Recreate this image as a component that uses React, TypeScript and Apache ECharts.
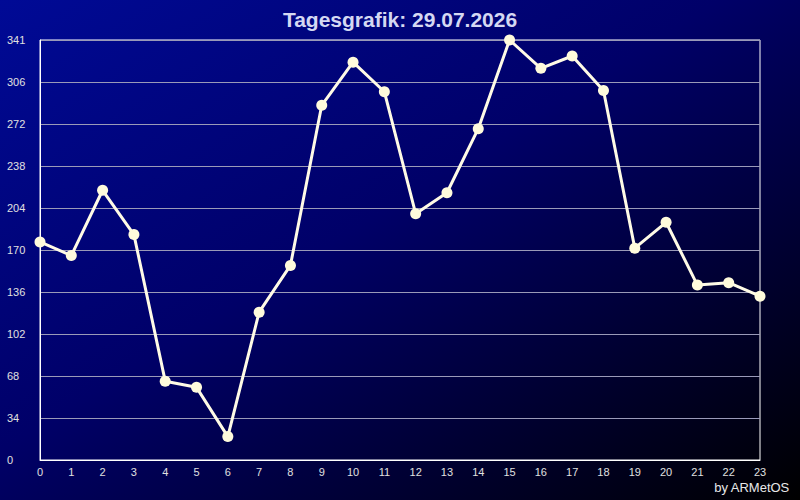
import React, { useEffect, useRef } from "react";
import * as echarts from "echarts";

const hours = ["0","1","2","3","4","5","6","7","8","9","10","11","12","13","14","15","16","17","18","19","20","21","22","23"];
const values = [177, 166, 219, 183, 64, 59, 19, 120, 158, 288, 323, 299, 200, 217, 269, 341, 318, 328, 300, 172, 193, 142, 144, 133];
const yMax = 341;
const titleText = "Tagesgrafik: 29.07.2026";
const creditText = "by ARMetOS";

export default function App() {
  const ref = useRef<HTMLDivElement>(null);
  useEffect(() => {
    document.body.style.margin = "0";
    const chart = echarts.init(ref.current!, null, { renderer: "svg" });
    chart.setOption({
      animation: false,
      backgroundColor: {
        type: "linear",
        x: 0,
        y: 0,
        x2: 1,
        y2: 1,
        colorStops: [
          { offset: 0, color: "#000a96" },
          { offset: 0.45, color: "#000068" },
          { offset: 1, color: "#000000" },
        ],
      },
      title: {
        text: titleText,
        left: "center",
        top: 4,
        textStyle: {
          color: "#d4d8f2",
          fontSize: 21,
          fontWeight: "bold",
          fontFamily: "Liberation Sans, Arial, sans-serif",
        },
      },
      graphic: [
        {
          type: "text",
          right: 10,
          top: 481,
          style: {
            text: creditText,
            fill: "#e8e8e8",
            fontSize: 13,
            fontFamily: "Liberation Sans, Arial, sans-serif",
          },
        },
      ],
      grid: {
        left: 40,
        right: 40,
        top: 40,
        bottom: 40,
        show: true,
        borderColor: "#ffffff",
        borderWidth: 1,
        backgroundColor: "transparent",
      },
      xAxis: {
        type: "category",
        data: hours,
        boundaryGap: false,
        axisLine: { show: true, lineStyle: { color: "#ffffff", width: 1 } },
        axisTick: { show: false },
        splitLine: { show: false },
        axisLabel: {
          color: "#e0e0e0",
          fontSize: 11,
          margin: 6,
          interval: 0,
          fontFamily: "Liberation Sans, Arial, sans-serif",
        },
      },
      yAxis: {
        type: "value",
        min: 0,
        max: yMax,
        interval: yMax / 10,
        axisLine: { show: true, lineStyle: { color: "#ffffff", width: 1 } },
        axisTick: { show: false },
        splitLine: { show: true, lineStyle: { color: "#9a9ab8", width: 1 } },
        axisLabel: {
          color: "#e0e0e0",
          fontSize: 11,
          align: "left",
          margin: 33,
          fontFamily: "Liberation Sans, Arial, sans-serif",
          formatter: (v: number) => String(Math.floor(v + 0.001)),
        },
      },
      series: [
        {
          type: "line",
          data: values,
          symbol: "circle",
          symbolSize: 11,
          lineStyle: { color: "#fffbe6", width: 3 },
          itemStyle: { color: "#fffbdc", borderWidth: 0 },
          z: 5,
        },
      ],
    });
    return () => chart.dispose();
  }, []);
  return <div ref={ref} style={{ width: 800, height: 500 }} />;
}
